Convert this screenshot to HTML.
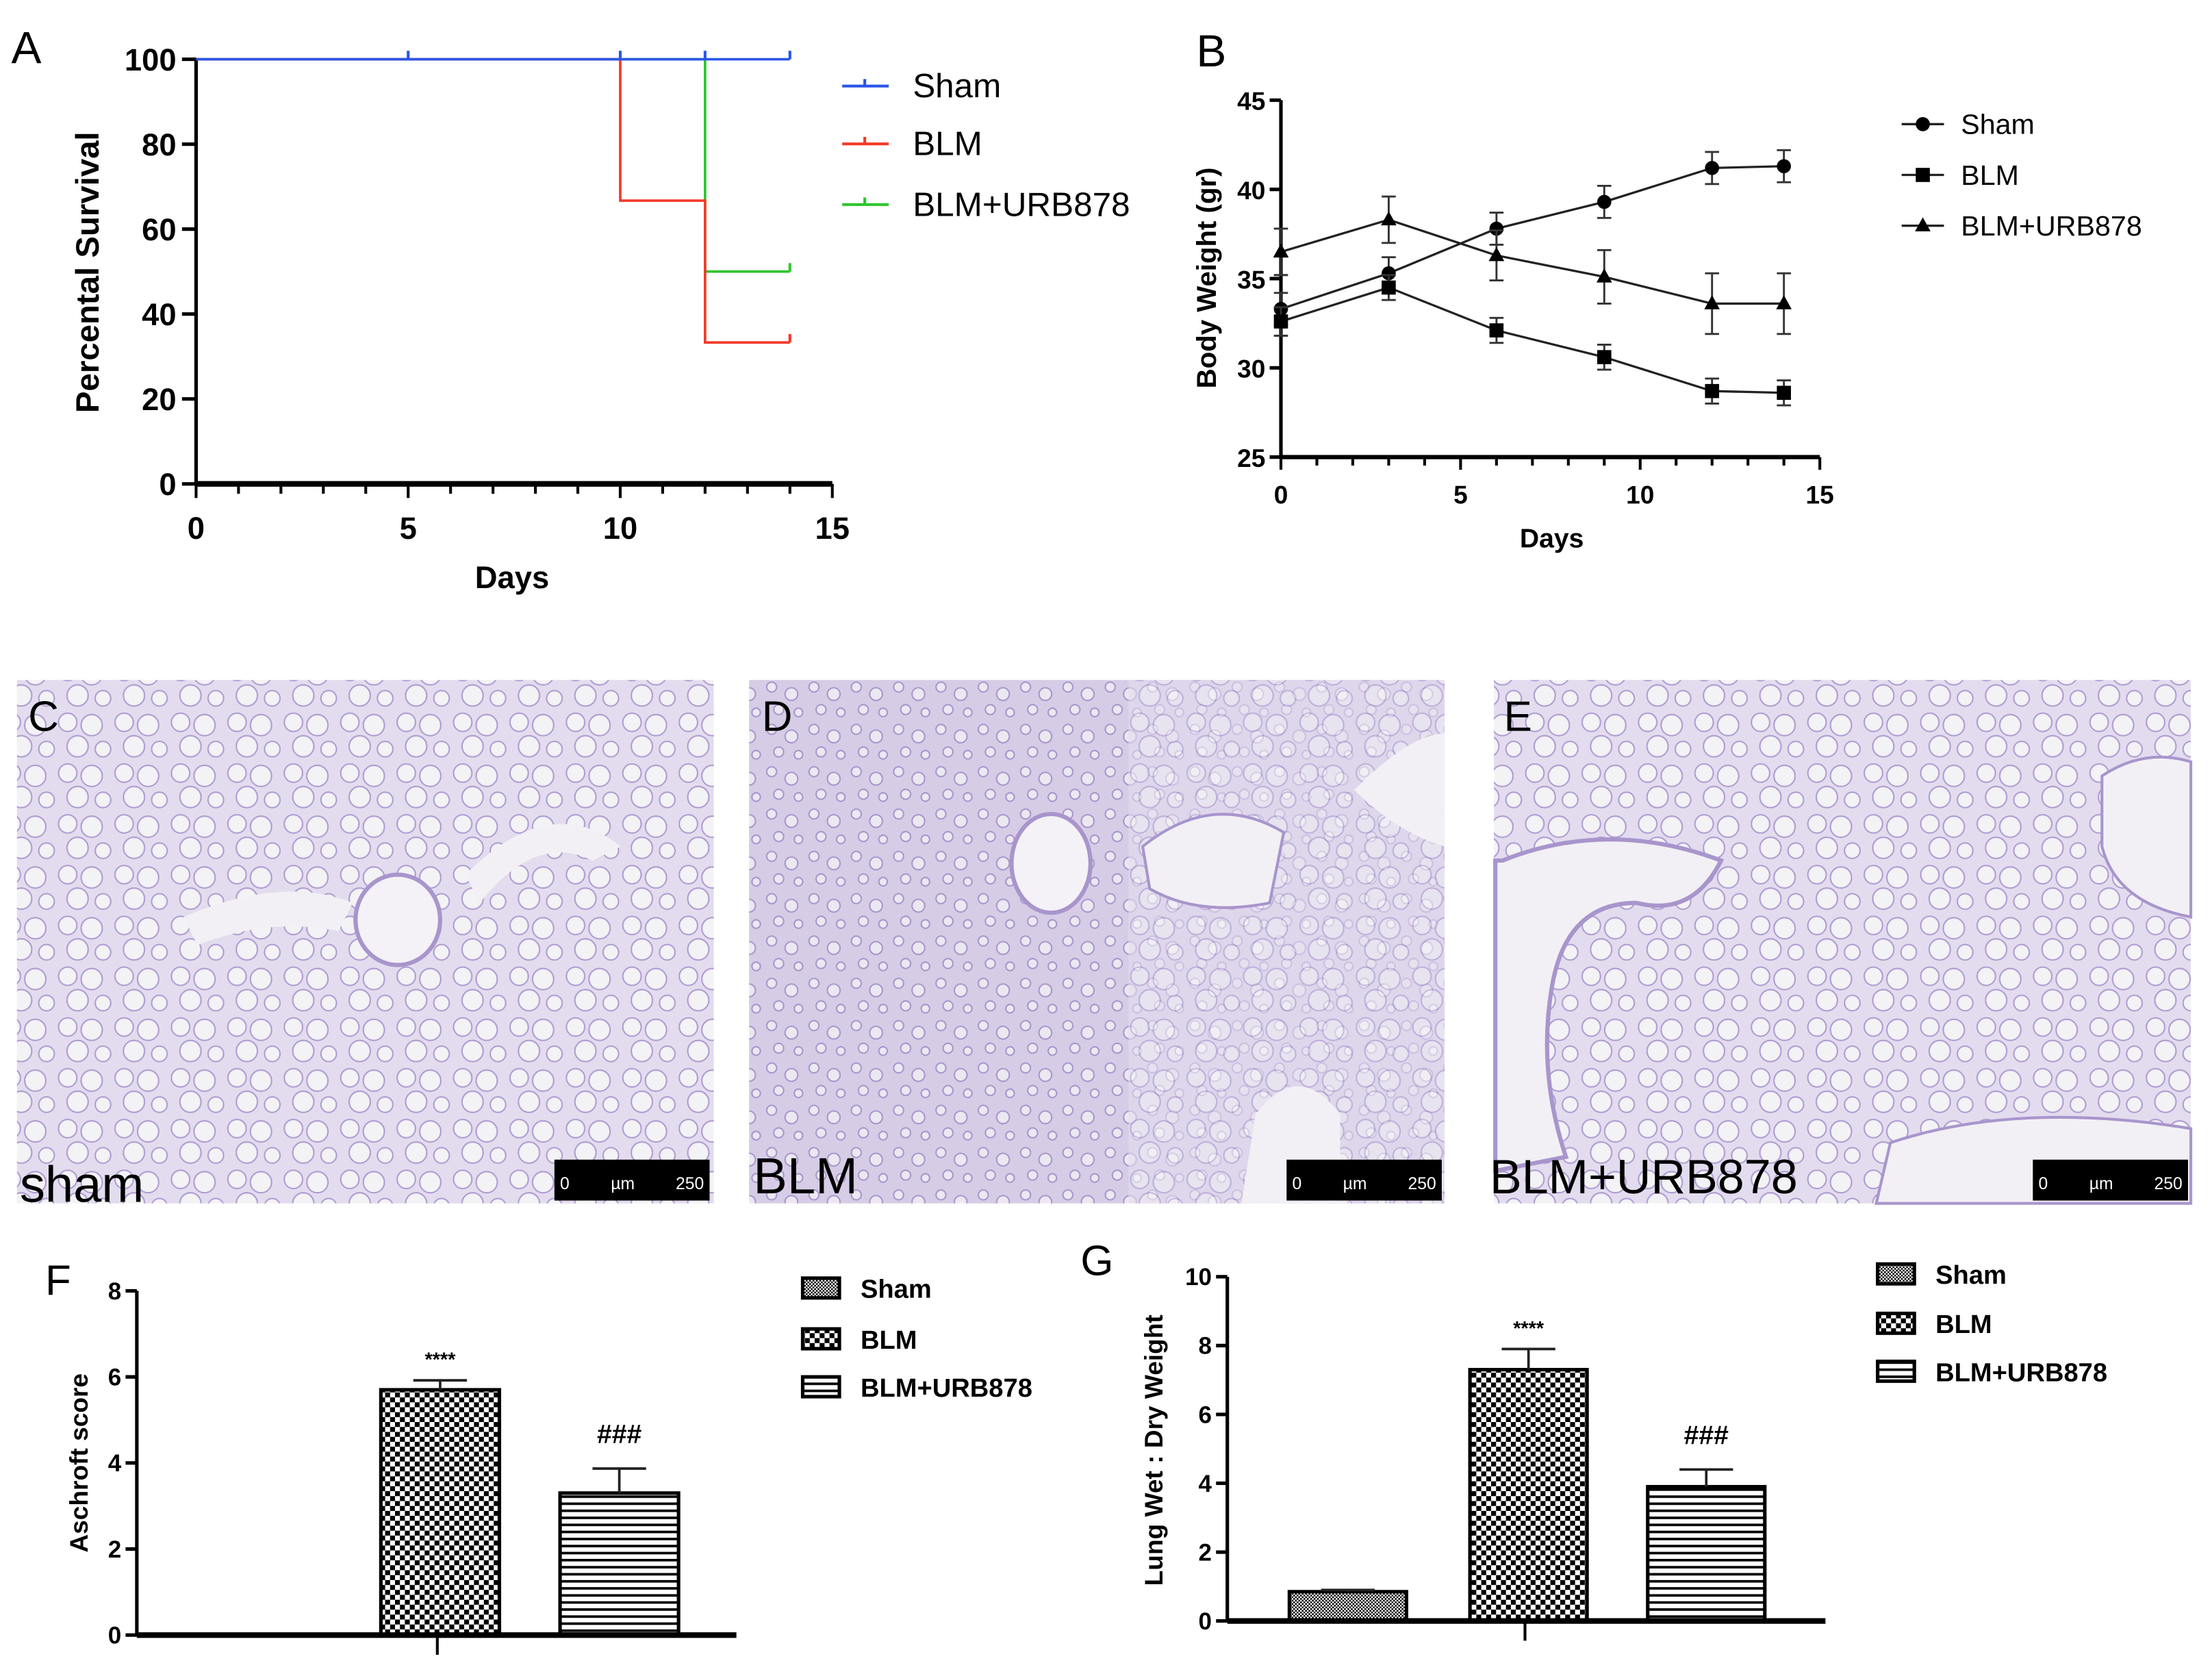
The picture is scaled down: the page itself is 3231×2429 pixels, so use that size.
<!DOCTYPE html>
<html><head><meta charset="utf-8"><style>
html,body{margin:0;padding:0;background:#fff}
svg{display:block}
text{font-family:"Liberation Sans",sans-serif}
.b{font-weight:bold}
.n{font-family:"Liberation Sans Narrow","Liberation Sans",sans-serif;font-weight:bold}
</style></head><body>
<svg id="fig" width="3231" height="2429" viewBox="0 0 1568 1178.8" preserveAspectRatio="none" xmlns="http://www.w3.org/2000/svg">
<defs>
<pattern id="alv" width="40" height="36" patternUnits="userSpaceOnUse">
<rect width="40" height="36" fill="#e3dcee"/>
<circle cx="8" cy="8" r="6.5" fill="#f3f2f5" stroke="#ad9bd2" stroke-width="1"/>
<circle cx="25" cy="10" r="7.5" fill="#f3f2f5" stroke="#ad9bd2" stroke-width="1"/>
<circle cx="15" cy="25" r="7.5" fill="#f3f2f5" stroke="#ad9bd2" stroke-width="1"/>
<circle cx="33" cy="27" r="5.5" fill="#f3f2f5" stroke="#ad9bd2" stroke-width="1"/>
</pattern>
<pattern id="alvD" width="30" height="30" patternUnits="userSpaceOnUse">
<rect width="30" height="30" fill="#d6cce6"/>
<circle cx="7" cy="7" r="3.5" fill="#ece8f1" stroke="#a895cc" stroke-width="1"/>
<circle cx="21" cy="12" r="4.5" fill="#ece8f1" stroke="#a895cc" stroke-width="1"/>
<circle cx="12" cy="23" r="3.5" fill="#ece8f1" stroke="#a895cc" stroke-width="1"/>
<circle cx="26" cy="25" r="3" fill="#ece8f1" stroke="#a895cc" stroke-width="1"/>
</pattern>
<pattern id="pSham" width="2.4" height="2.4" patternUnits="userSpaceOnUse">
<rect width="2.4" height="2.4" fill="#fff"/><rect width="1.2" height="1.2" fill="#000"/><rect x="1.2" y="1.2" width="1.2" height="1.2" fill="#000"/>
</pattern>
<pattern id="pBLM" width="7" height="7" patternUnits="userSpaceOnUse">
<rect width="7" height="7" fill="#fff"/><rect width="3.5" height="3.5" fill="#000"/><rect x="3.5" y="3.5" width="3.5" height="3.5" fill="#000"/>
</pattern>
<pattern id="pURB" width="10" height="5" patternUnits="userSpaceOnUse">
<rect width="10" height="5" fill="#fff"/><rect y="0" width="10" height="1.8" fill="#000"/>
</pattern>
</defs>

<!-- Micrographs -->
<g>
<rect x="12" y="482" width="494" height="371" fill="url(#alv)"/>
<ellipse cx="282" cy="652" rx="30" ry="32" fill="#f4f2f6" stroke="#a895cc" stroke-width="3"/>
<path d="M130 650 Q200 620 250 640 L240 660 Q190 650 140 670Z" fill="#f2f0f4"/>
<path d="M330 620 Q390 560 440 600 L420 610 Q380 590 340 640Z" fill="#f2f0f4"/>
<text x="20" y="518" font-size="30" fill="#000">C</text>
<text x="14" y="852" font-size="36" fill="#000">sham</text>
<rect x="393" y="822" width="110" height="29" fill="#000"/>
<text x="397" y="843" font-size="12" fill="#fff">0</text><text x="433" y="843" font-size="12" fill="#fff">µm</text><text x="479" y="843" font-size="12" fill="#fff">250</text>
</g>
<g>
<rect x="531" y="482" width="493" height="371" fill="url(#alvD)"/>
<rect x="800" y="482" width="224" height="371" fill="url(#alv)" opacity="0.6"/>
<ellipse cx="745" cy="612" rx="28" ry="35" fill="#f4f2f6" stroke="#a895cc" stroke-width="3"/>
<path d="M810 600 Q860 560 910 590 L900 640 Q850 650 815 630Z" fill="#f2f0f4" stroke="#a895cc" stroke-width="2"/>
<path d="M890 790 Q920 750 950 790 L950 853 L880 853Z" fill="#f2f0f4"/>
<path d="M960 560 Q1000 520 1024 520 L1024 600 Q990 590 960 560Z" fill="#f2f0f4"/>
<text x="540" y="518" font-size="30" fill="#000">D</text>
<text x="534" y="846" font-size="36" fill="#000">BLM</text>
<rect x="912" y="822" width="110" height="29" fill="#000"/>
<text x="916" y="843" font-size="12" fill="#fff">0</text><text x="952" y="843" font-size="12" fill="#fff">µm</text><text x="998" y="843" font-size="12" fill="#fff">250</text>
</g>
<g>
<rect x="1059" y="482" width="494" height="371" fill="url(#alv)"/>
<path d="M1065 610 Q1140 580 1220 610 Q1200 650 1160 640 Q1110 640 1100 700 Q1090 760 1110 820 L1060 830 L1060 610Z" fill="#f2f0f4" stroke="#a895cc" stroke-width="3"/>
<path d="M1490 550 Q1520 530 1553 540 L1553 650 Q1500 640 1490 600Z" fill="#f2f0f4" stroke="#a895cc" stroke-width="2"/>
<path d="M1340 810 Q1430 780 1553 800 L1553 853 L1330 853Z" fill="#f2f0f4" stroke="#a895cc" stroke-width="2"/>
<text x="1066" y="518" font-size="30" fill="#000">E</text>
<text x="1056" y="846" font-size="34" fill="#000">BLM+URB878</text>
<rect x="1441" y="822" width="110" height="29" fill="#000"/>
<text x="1445" y="843" font-size="12" fill="#fff">0</text><text x="1481" y="843" font-size="12" fill="#fff">µm</text><text x="1527" y="843" font-size="12" fill="#fff">250</text>
</g>

<g id="A"></g>
<g id="B"></g>
<g id="F"></g>
<g id="G"></g>
</svg>
<script>
// ---- Panel A data ----
const survDays = [0, 5, 10, 12, 14];
const survSham = [100, 100, 100, 100, 100];
const survBLM = [100, 100, 66.7, 33.3, 33.3];
const survURB = [100, 100, 100, 50, 50];
const survXTicks = [0, 5, 10, 15];
const survYTicks = [0, 20, 40, 60, 80, 100];
// ---- Panel B data ----
const bwDays = [0, 3, 6, 9, 12, 14];
const bwSham = [33.3, 35.3, 37.8, 39.3, 41.2, 41.3];
const bwShamErr = [0.9, 0.9, 0.9, 0.9, 0.9, 0.9];
const bwBLM = [32.6, 34.5, 32.1, 30.6, 28.7, 28.6];
const bwBLMErr = [0.8, 0.7, 0.7, 0.7, 0.7, 0.7];
const bwURB = [36.5, 38.3, 36.3, 35.1, 33.6, 33.6];
const bwURBErr = [1.3, 1.3, 1.4, 1.5, 1.7, 1.7];
const bwXTicks = [0, 5, 10, 15];
const bwYTicks = [25, 30, 35, 40, 45];
// ---- Panel F data ----
const fGroups = ["Sham", "BLM", "BLM+URB878"];
const fValues = [0, 5.7, 3.3];
const fErr = [0, 0.22, 0.57];
const fSig = ["", "****", "###"];
const fYTicks = [0, 2, 4, 6, 8];
// ---- Panel G data ----
const gGroups = ["Sham", "BLM", "BLM+URB878"];
const gValues = [0.85, 7.3, 3.9];
const gErr = [0.05, 0.6, 0.5];
const gSig = ["", "****", "###"];
const gYTicks = [0, 2, 4, 6, 8, 10];

const NS = "http://www.w3.org/2000/svg";
function el(parent, tag, attrs, txt) {
  const e = document.createElementNS(NS, tag);
  for (const k in attrs) e.setAttribute(k, attrs[k]);
  if (txt !== undefined) e.textContent = txt;
  parent.appendChild(e);
  return e;
}
function lin(d0, d1, r0, r1) { return v => r0 + (v - d0) * (r1 - r0) / (d1 - d0); }

// ===== Panel A =====
(function () {
  const g = document.getElementById("A");
  const x = lin(0, 15, 139, 590), y = lin(0, 100, 343, 42);
  let t = el(g, "text", {x: 8, y: 45, "font-size": 32}, "A");
  
  
  el(g, "line", {x1: x(0), y1: y(100) - 1, x2: x(0), y2: y(0), stroke: "#000", "stroke-width": 2.5});
  el(g, "line", {x1: x(0), y1: y(0), x2: x(15), y2: y(0), stroke: "#000", "stroke-width": 4});
  for (let d = 0; d <= 15; d++) el(g, "line", {x1: x(d), y1: y(0), x2: x(d), y2: y(0) + (d % 5 ? 7 : 10), stroke: "#000", "stroke-width": 2});
  survXTicks.forEach(v => {
    const e = el(g, "text", {x: x(v), y: 382, "font-size": 22, "text-anchor": "middle", class: "n"}, v);
    
    
  });
  survYTicks.forEach(v => {
    el(g, "line", {x1: x(0) - 10, y1: y(v), x2: x(0), y2: y(v), stroke: "#000", "stroke-width": 2.5});
    const e = el(g, "text", {x: x(0) - 14, y: y(v) + 8, "font-size": 22, "text-anchor": "end", class: "n"}, v);
    
    
  });
  t = el(g, "text", {x: 363, y: 417, "font-size": 22, "text-anchor": "middle", class: "b"}, "Days");
  
  
  t = el(g, "text", {transform: "translate(70,193) rotate(-90)", "font-size": 23, "text-anchor": "middle", class: "b"}, "Percental Survival");
  
  
  function step(vals, color, name) {
    let d = "M" + x(survDays[0]) + " " + y(vals[0]);
    for (let i = 1; i < survDays.length; i++) {
      d += " H" + x(survDays[i]) + " V" + y(vals[i]);
    }
    const p = el(g, "path", {d: d, fill: "none", stroke: color, "stroke-width": 1.8});
    
    
    const li = survDays.length - 1;
    el(g, "line", {x1: x(survDays[li]), y1: y(vals[li]), x2: x(survDays[li]), y2: y(vals[li]) - 6, stroke: color, "stroke-width": 2});
  }
  step(survURB, "#2fc52f", "line-blm-urb878");
  step(survBLM, "#f23a2a", "line-blm");
  step(survSham, "#2a55e8", "line-sham");
  [5, 10, 12].forEach(d => el(g, "line", {x1: x(d), y1: y(100), x2: x(d), y2: y(100) - 6, stroke: "#2a55e8", "stroke-width": 2}));
  const leg = [["Sham", "#2a55e8", 61], ["BLM", "#f23a2a", 102], ["BLM+URB878", "#2fc52f", 145]];
  leg.forEach(l => {
    const lg = el(g, "g", {});
    
    
    el(lg, "line", {x1: 597, y1: l[2], x2: 630, y2: l[2], stroke: l[1], "stroke-width": 2});
    el(lg, "line", {x1: 613, y1: l[2], x2: 613, y2: l[2] - 5, stroke: l[1], "stroke-width": 2});
    el(lg, "text", {x: 647, y: l[2] + 8, "font-size": 24}, l[0]);
  });
})();

// ===== Panel B =====
(function () {
  const g = document.getElementById("B");
  const x = lin(0, 15, 908, 1290), y = lin(25, 45, 324, 71);
  let t = el(g, "text", {x: 848, y: 47, "font-size": 32}, "B");
  
  
  el(g, "line", {x1: x(0), y1: y(45), x2: x(0), y2: y(25), stroke: "#000", "stroke-width": 2.5});
  el(g, "line", {x1: x(0), y1: y(25), x2: x(15), y2: y(25), stroke: "#000", "stroke-width": 3});
  for (let d = 0; d <= 15; d++) el(g, "line", {x1: x(d), y1: y(25), x2: x(d), y2: y(25) + (d % 5 ? 6 : 9), stroke: "#000", "stroke-width": 2});
  bwXTicks.forEach(v => {
    const e = el(g, "text", {x: x(v), y: 357, "font-size": 18, "text-anchor": "middle", class: "n"}, v);
    
    
  });
  bwYTicks.forEach(v => {
    el(g, "line", {x1: x(0) - 8, y1: y(v), x2: x(0), y2: y(v), stroke: "#000", "stroke-width": 2.5});
    const e = el(g, "text", {x: x(0) - 11, y: y(v) + 7, "font-size": 18, "text-anchor": "end", class: "n"}, v);
    
    
  });
  t = el(g, "text", {x: 1100, y: 388, "font-size": 19, "text-anchor": "middle", class: "b"}, "Days");
  
  
  t = el(g, "text", {transform: "translate(862,197) rotate(-90)", "font-size": 19.5, "text-anchor": "middle", class: "b"}, "Body Weight (gr)");
  
  
  function marker(p, cx, cy, shape) {
    if (shape === "c") el(p, "circle", {cx: cx, cy: cy, r: 5, fill: "#000"});
    else if (shape === "s") el(p, "rect", {x: cx - 5, y: cy - 5, width: 10, height: 10, fill: "#000"});
    else el(p, "path", {d: `M${cx} ${cy - 6} L${cx + 5.5} ${cy + 4} L${cx - 5.5} ${cy + 4}Z`, fill: "#000"});
  }
  function series(vals, errs, shape, name) {
    const sg = el(g, "g", {});
    
    
    el(sg, "polyline", {points: bwDays.map((d, i) => x(d) + "," + y(vals[i])).join(" "), fill: "none", stroke: "#222", "stroke-width": 1.6});
    bwDays.forEach((d, i) => {
      const cx = x(d), hi = y(vals[i] + errs[i]), lo = y(vals[i] - errs[i]);
      el(sg, "path", {d: `M${cx} ${hi} V${lo} M${cx - 5} ${hi} H${cx + 5} M${cx - 5} ${lo} H${cx + 5}`, stroke: "#333", "stroke-width": 1.4, fill: "none"});
      marker(sg, cx, y(vals[i]), shape);
    });
  }
  series(bwSham, bwShamErr, "c", "series-sham");
  series(bwBLM, bwBLMErr, "s", "series-blm");
  series(bwURB, bwURBErr, "t", "series-blm-urb878");
  [["Sham", "c", 88], ["BLM", "s", 124], ["BLM+URB878", "t", 160]].forEach(l => {
    const lg = el(g, "g", {});
    
    
    el(lg, "line", {x1: 1348, y1: l[2], x2: 1378, y2: l[2], stroke: "#222", "stroke-width": 1.6});
    marker(lg, 1363, l[2], l[1]);
    el(lg, "text", {x: 1390, y: l[2] + 7, "font-size": 20}, l[0]);
  });
})();

// ===== Bar charts =====
function barChart(id, groups, vals, errs, sig, ticks, cfg) {
  const g = document.getElementById(id);
  const y = lin(0, ticks[ticks.length - 1], cfg.y0, cfg.yTop);
  let t = el(g, "text", {x: cfg.lx, y: cfg.ly, "font-size": 30}, id);
  
  
  el(g, "line", {x1: cfg.ax, y1: cfg.yTop, x2: cfg.ax, y2: cfg.y0, stroke: "#000", "stroke-width": 2.5});
  ticks.forEach(v => {
    el(g, "line", {x1: cfg.ax - 8, y1: y(v), x2: cfg.ax, y2: y(v), stroke: "#000", "stroke-width": 2.5});
    const e = el(g, "text", {x: cfg.ax - 11, y: y(v) + 6, "font-size": 17, "text-anchor": "end", class: "n"}, v);
    
    
  });
  const pats = ["url(#pSham)", "url(#pBLM)", "url(#pURB)"];
  groups.forEach((name, i) => {
    const bx = cfg.bx[i], bw = cfg.bw;
    const bg = el(g, "g", {});
    
    
    if (vals[i] > 0) {
      el(bg, "rect", {x: bx, y: y(vals[i]), width: bw, height: cfg.y0 - y(vals[i]), fill: pats[i], stroke: "#000", "stroke-width": 2.5});
      const cx = bx + bw / 2, top = y(vals[i] + errs[i]);
      el(bg, "path", {d: `M${cx} ${y(vals[i])} V${top} M${cx - 19} ${top} H${cx + 19}`, stroke: "#222", "stroke-width": 1.8, fill: "none"});
      if (sig[i]) el(bg, "text", {x: cx, y: top - (sig[i][0] === "#" ? 18 : 10), "font-size": sig[i][0] === "#" ? 19 : 14, "text-anchor": "middle", class: "n"}, sig[i]);
    }
  });
  el(g, "line", {x1: cfg.ax, y1: cfg.y0, x2: cfg.xEnd, y2: cfg.y0, stroke: "#000", "stroke-width": 4});
  el(g, "line", {x1: cfg.midTick, y1: cfg.y0, x2: cfg.midTick, y2: cfg.y0 + 14, stroke: "#000", "stroke-width": 2});
  t = el(g, "text", {transform: `translate(${cfg.tx},${cfg.ty}) rotate(-90)`, "font-size": 18, "text-anchor": "middle", class: "b"}, cfg.title);
  
  
  groups.forEach((name, i) => {
    const lg = el(g, "g", {});
    
    
    const ly = cfg.legY[i];
    el(lg, "rect", {x: cfg.legX, y: ly - 6, width: 26, height: 14, fill: pats[i], stroke: "#000", "stroke-width": 2.5});
    el(lg, "text", {x: cfg.legX + 41, y: ly + 8, "font-size": 18.5, class: "b"}, name);
  });
}
barChart("F", fGroups, fValues, fErr, fSig, fYTicks, {
  ax: 97, y0: 1159, yTop: 915, xEnd: 522, bx: [144, 270, 397], bw: 84, midTick: 310,
  lx: 32, ly: 918, tx: 62, ty: 1037, title: "Aschroft score", legX: 569, legY: [912, 948, 982]
});
barChart("G", gGroups, gValues, gErr, gSig, gYTicks, {
  ax: 870, y0: 1149, yTop: 905, xEnd: 1294, bx: [914, 1042, 1168], bw: 83, midTick: 1081,
  lx: 766, ly: 904, tx: 824, ty: 1028, title: "Lung  Wet : Dry Weight", legX: 1331, legY: [902, 937, 971]
});
</script>
</body></html>
